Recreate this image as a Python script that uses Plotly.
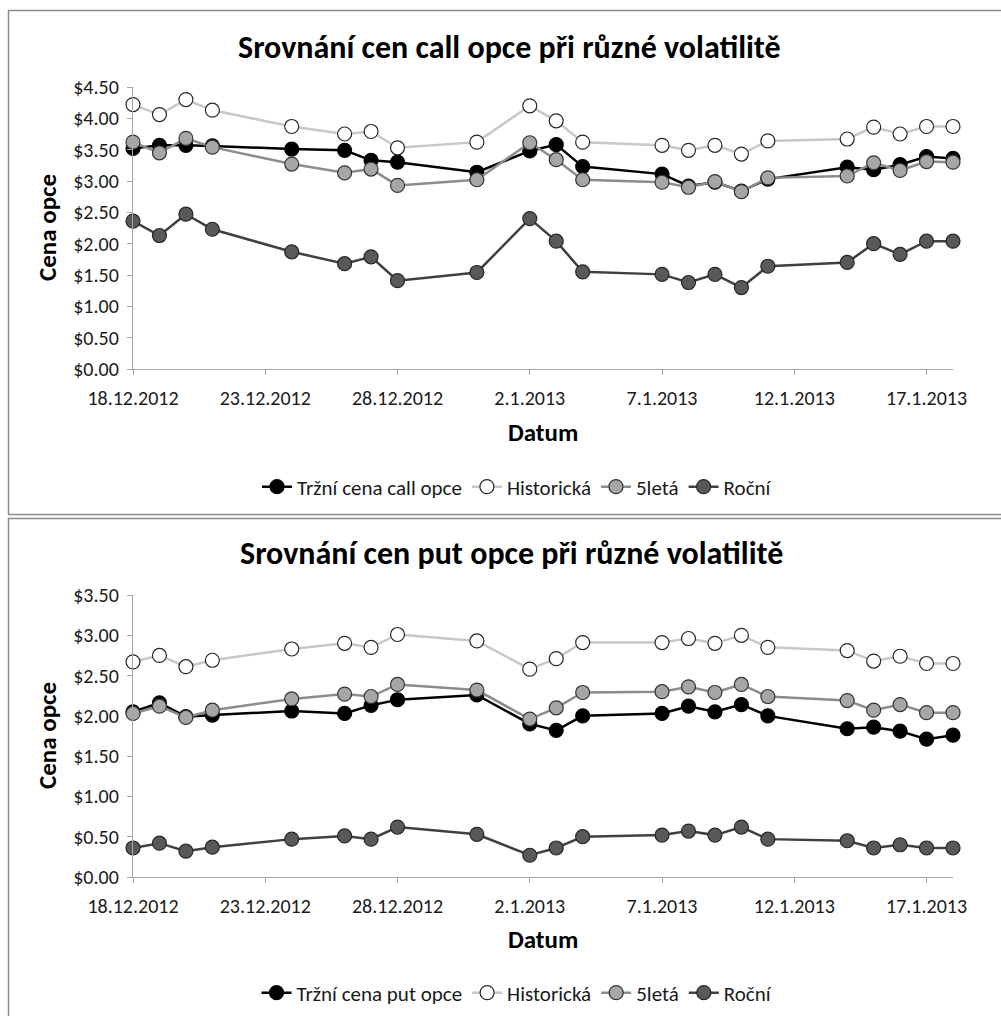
import plotly.graph_objects as go

dates = ["2012-12-18", "2012-12-19", "2012-12-20", "2012-12-21", "2012-12-24", "2012-12-26",
         "2012-12-27", "2012-12-28", "2012-12-31", "2013-01-02", "2013-01-03", "2013-01-04",
         "2013-01-07", "2013-01-08", "2013-01-09", "2013-01-10", "2013-01-11", "2013-01-14",
         "2013-01-15", "2013-01-16", "2013-01-17", "2013-01-18"]

call_market = [3.52, 3.57, 3.57, 3.56, 3.51, 3.49, 3.33, 3.30, 3.14, 3.48, 3.58, 3.23,
               3.11, 2.92, 2.98, 2.84, 3.03, 3.22, 3.18, 3.26, 3.39, 3.36]
call_hist = [4.22, 4.06, 4.30, 4.13, 3.87, 3.75, 3.79, 3.53, 3.62, 4.20, 3.96, 3.62,
             3.57, 3.49, 3.57, 3.43, 3.64, 3.67, 3.86, 3.75, 3.87, 3.87]
call_5y = [3.62, 3.45, 3.68, 3.54, 3.27, 3.13, 3.19, 2.93, 3.02, 3.61, 3.34, 3.02,
           2.98, 2.90, 2.99, 2.83, 3.05, 3.08, 3.29, 3.17, 3.31, 3.30]
call_1y = [2.36, 2.13, 2.47, 2.23, 1.87, 1.68, 1.79, 1.41, 1.54, 2.40, 2.04, 1.55,
           1.51, 1.38, 1.51, 1.30, 1.64, 1.70, 2.00, 1.83, 2.04, 2.04]

put_market = [2.05, 2.16, 1.99, 2.01, 2.06, 2.03, 2.13, 2.20, 2.26, 1.90, 1.82, 2.00,
              2.03, 2.12, 2.05, 2.14, 2.00, 1.84, 1.86, 1.81, 1.71, 1.76]
put_hist = [2.67, 2.75, 2.61, 2.69, 2.83, 2.90, 2.85, 3.01, 2.93, 2.58, 2.71, 2.91,
            2.91, 2.96, 2.90, 3.00, 2.85, 2.81, 2.68, 2.74, 2.65, 2.65]
put_5y = [2.03, 2.12, 1.98, 2.07, 2.21, 2.27, 2.24, 2.39, 2.32, 1.96, 2.10, 2.29,
          2.30, 2.36, 2.29, 2.39, 2.24, 2.19, 2.07, 2.14, 2.04, 2.04]
put_1y = [0.36, 0.42, 0.32, 0.37, 0.47, 0.51, 0.47, 0.62, 0.53, 0.27, 0.36, 0.50,
          0.52, 0.57, 0.52, 0.62, 0.47, 0.45, 0.36, 0.40, 0.36, 0.36]

call_names = ["Tržní cena call opce", "Historická", "5letá", "Roční"]
put_names = ["Tržní cena put opce", "Historická", "5letá", "Roční"]
x_range = ["2012-12-18", "2013-01-18"]
y_range_call = [0, 4.5]
y_range_put = [0, 3.5]

FONT = "Carlito, Lato, 'Open Sans', sans-serif"
W, H = 1001, 1016

styles = [
    dict(line="#000000", fill="#000000", edge="#000000"),
    dict(line="#c8c8c8", fill="#ffffff", edge="#262626"),
    dict(line="#8c8c8c", fill="#a6a6a6", edge="#333333"),
    dict(line="#404040", fill="#595959", edge="#262626"),
]

fig = go.Figure()

def add_series(values, names, xa, ya, legend):
    for v, n, s in zip(values, names, styles):
        fig.add_trace(go.Scatter(
            x=dates, y=v, name=n, mode="lines+markers",
            xaxis=xa, yaxis=ya, legend=legend,
            line=dict(color=s["line"], width=2.5),
            marker=dict(size=14, color=s["fill"], line=dict(color=s["edge"], width=1.2)),
            cliponaxis=False,
        ))

add_series([call_market, call_hist, call_5y, call_1y], call_names, "x", "y", "legend")
add_series([put_market, put_hist, put_5y, put_1y], put_names, "x2", "y2", "legend2")

def px_x(p):
    return p / W

def px_y(p):
    return 1 - p / H

xdom = [px_x(133), px_x(953)]
axis_common = dict(
    showgrid=False, zeroline=False, showline=True, linecolor="#a6a6a6", linewidth=1.3,
    ticks="outside", ticklen=5, tickcolor="#a6a6a6", tickwidth=1.3, automargin=False,
    tickfont=dict(family=FONT, size=20, color="#1a1a1a"),
)

legend_common = dict(orientation="h", xanchor="center", yanchor="middle",
                     font=dict(family=FONT, size=21, color="#1a1a1a"),
                     bgcolor="rgba(0,0,0,0)", traceorder="normal")

fig.update_layout(
    width=W, height=H,
    margin=dict(l=0, r=0, t=0, b=0, autoexpand=False),
    paper_bgcolor="white", plot_bgcolor="white",
    font=dict(family=FONT),
    xaxis=dict(domain=xdom, anchor="y", type="date", range=x_range, ticklabelstandoff=6,
               tick0="2012-12-18", dtick=5 * 86400000, tickformat="%-d.%-m.%Y", **axis_common),
    yaxis=dict(domain=[px_y(369), px_y(87)], anchor="x", range=y_range_call, dtick=0.5,
               tickformat="$.2f", ticklabelstandoff=4, **axis_common),
    xaxis2=dict(domain=xdom, anchor="y2", type="date", range=x_range, ticklabelstandoff=6,
                tick0="2012-12-18", dtick=5 * 86400000, tickformat="%-d.%-m.%Y", **axis_common),
    yaxis2=dict(domain=[px_y(877), px_y(595)], anchor="x2", range=y_range_put, dtick=0.5,
                tickformat="$.2f", ticklabelstandoff=4, **axis_common),
    legend=dict(x=px_x(517), y=px_y(487), **legend_common),
    legend2=dict(x=px_x(517), y=px_y(993), **legend_common),
    showlegend=True,
)

annotations = [
    dict(text="<b>Srovnání cen call opce při různé volatilitě</b>", x=px_x(510), y=px_y(47)),
    dict(text="<b>Srovnání cen put opce při různé volatilitě</b>", x=px_x(511), y=px_y(553)),
]
for a in annotations:
    fig.add_annotation(xref="paper", yref="paper", xanchor="center", yanchor="middle",
                       showarrow=False, font=dict(family=FONT, size=32, color="#000000"), **a)

for ytxt in [432, 939]:
    fig.add_annotation(text="<b>Datum</b>", xref="paper", yref="paper", x=px_x(543), y=px_y(ytxt),
                       xanchor="center", yanchor="middle", showarrow=False,
                       font=dict(family=FONT, size=25, color="#000000"))
for ymid in [228, 736]:
    fig.add_annotation(text="<b>Cena opce</b>", xref="paper", yref="paper", x=px_x(47), y=px_y(ymid),
                       xanchor="center", yanchor="middle", showarrow=False, textangle=-90,
                       font=dict(family=FONT, size=25, color="#000000"))

# chart area borders
fig.add_shape(type="rect", xref="paper", yref="paper", x0=px_x(8.5), x1=px_x(1010),
              y0=px_y(514.5), y1=px_y(10.5), line=dict(color="#8c8c8c", width=1.5),
              fillcolor="rgba(0,0,0,0)", layer="below")
fig.add_shape(type="rect", xref="paper", yref="paper", x0=px_x(8.5), x1=px_x(1010),
              y0=px_y(1030), y1=px_y(518.5), line=dict(color="#8c8c8c", width=1.5),
              fillcolor="rgba(0,0,0,0)", layer="below")

fig.write_html("out.html", config={"displayModeBar": False},
               post_script="document.body.style.margin='0';document.body.style.overflow='hidden';")
